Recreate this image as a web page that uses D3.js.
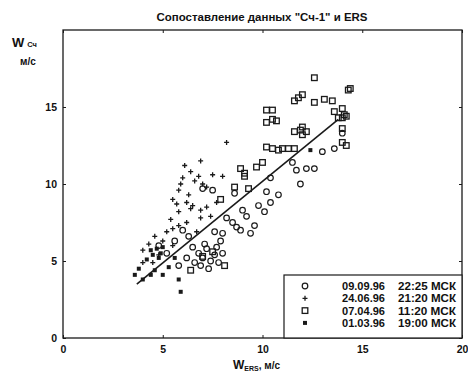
<!DOCTYPE html>
<html>
<head>
<meta charset="utf-8">
<script src="https://cdn.jsdelivr.net/npm/d3@7"></script>
<style>
  body { margin: 0; background: #fff; }
  text { font-family: "Liberation Sans", Arial, sans-serif; fill: #111; }
</style>
</head>
<body>
<div id="chart"></div>
<script>
const WIDTH = 468
const HEIGHT = 374
const margin = { top: 30, right: 6, bottom: 36, left: 63 }

// data (x = W_ERS, y = W_Сч, m/s)
const circles = [
  [6.5, 5.9], [6.8, 5.5], [7.0, 5.2], [7.2, 5.8], [7.4, 5.0], [7.6, 5.4], [7.8, 4.9],
  [6.9, 4.7], [7.3, 4.5], [7.7, 5.9], [8.0, 5.5], [6.6, 4.9], [7.1, 6.1], [7.9, 6.3],
  [5.8, 4.7], [6.2, 5.2], [8.2, 7.8], [8.5, 7.5], [8.7, 7.2], [8.9, 7.0], [9.2, 7.9],
  [9.6, 7.3], [8.0, 6.8], [9.0, 8.3], [9.8, 8.6], [10.4, 8.8], [10.2, 9.5], [10.8, 9.3],
  [10.4, 10.4], [11.5, 11.4], [11.7, 10.9], [12.2, 11.0], [12.6, 11.0], [11.9, 10.0],
  [13.0, 12.1], [13.6, 12.3], [14.0, 13.3], [7.0, 9.7], [7.5, 9.6], [8.6, 9.4],
  [6.0, 7.0], [5.6, 6.3], [4.8, 6.0], [5.2, 5.5], [9.4, 6.8], [10.1, 8.2], [6.3, 6.6], [7.6, 6.9],
]
const pluses = [
  [5.7, 8.7], [6.2, 8.8], [6.5, 8.6], [6.9, 8.3], [7.2, 8.5], [7.7, 8.8], [5.4, 7.7],
  [5.8, 8.2], [6.4, 8.4], [6.9, 7.8], [7.4, 7.9], [5.2, 6.9], [5.5, 7.1], [5.8, 7.3],
  [6.2, 7.5], [6.7, 6.9], [4.0, 5.7], [4.0, 4.9], [4.5, 4.9], [8.2, 12.7], [8.0, 10.5],
  [7.2, 9.8], [6.1, 11.2], [6.4, 10.8], [6.0, 10.4], [6.6, 10.2], [5.8, 9.6], [6.3, 9.3],
  [5.5, 9.0], [7.0, 10.0], [6.8, 10.5], [7.5, 10.6], [5.0, 6.3], [4.6, 6.6], [4.3, 6.1],
  [5.9, 10.0], [6.9, 11.5], [4.8, 5.4], [5.5, 6.0],
]
const squares = [
  [12.6, 16.9], [11.6, 15.4], [11.8, 15.6], [12.0, 15.8], [12.6, 15.3], [13.1, 15.5],
  [13.5, 15.4], [14.3, 16.1], [14.4, 16.2], [13.6, 14.7], [14.0, 14.9], [14.1, 14.5],
  [14.2, 14.4], [14.0, 14.3], [13.8, 14.3], [14.0, 13.6], [14.0, 12.7], [14.2, 12.5],
  [10.5, 14.8], [10.5, 14.2], [10.7, 14.1], [11.6, 13.4], [11.9, 13.5], [12.0, 13.7],
  [12.2, 13.4], [12.0, 13.2], [10.5, 12.3], [10.8, 12.2], [11.0, 12.3], [11.3, 12.3],
  [11.6, 12.3], [8.9, 11.0], [9.1, 10.7], [9.7, 11.1], [10.0, 11.4], [9.1, 10.5],
  [10.2, 14.8], [10.2, 14.0], [10.2, 12.4], [8.6, 9.8], [9.3, 9.7], [7.9, 9.0],
  [7.0, 5.3], [7.5, 5.6], [6.4, 4.4], [8.1, 4.7],
]
const dots = [
  [4.2, 5.1], [4.5, 5.4], [4.7, 5.8], [4.9, 5.5], [5.0, 5.9], [4.4, 5.7], [4.8, 5.2],
  [3.6, 4.1], [4.0, 3.8], [4.4, 4.1], [5.0, 4.1], [5.8, 3.8], [5.9, 3.0], [3.8, 4.5],
  [4.6, 4.4], [5.3, 4.6], [5.6, 5.2], [12.4, 12.2],
]

// regression line end points
const fitX = [3.7, 13.8]
const fitY = [3.5, 14.2]

const xTicks = [0, 5, 10, 15, 20]
const yTicks = [0, 5, 10, 15]

const legendLabels = [
  ['09.09.96', '22:25 МСК'],
  ['24.06.96', '21:20 МСК'],
  ['07.04.96', '11:20 МСК'],
  ['01.03.96', '19:00 МСК'],
]

const svg = d3.select('#chart').append('svg').attr('width', WIDTH).attr('height', HEIGHT)

const x = d3.scaleLinear().domain([0, 20]).range([margin.left, WIDTH - margin.right])
const y = d3.scaleLinear().domain([0, 20]).range([HEIGHT - margin.bottom, margin.top])

const INK = '#1a1a1a'

// frame
svg.append('rect')
  .attr('x', x(0)).attr('y', y(20))
  .attr('width', x(20) - x(0)).attr('height', y(0) - y(20))
  .attr('fill', 'none').attr('stroke', INK).attr('stroke-width', 1.3)

// axes, ticks pointing inward
svg.append('g')
  .attr('transform', `translate(0,${y(0)})`)
  .call(d3.axisBottom(x).tickValues(xTicks).tickSize(-3).tickPadding(8).tickFormat(d3.format('d')))
svg.append('g')
  .attr('transform', `translate(0,${y(20)})`)
  .call(d3.axisTop(x).tickValues(xTicks).tickSize(-3).tickFormat(''))
svg.append('g')
  .attr('transform', `translate(${x(0)},0)`)
  .call(d3.axisLeft(y).tickValues(yTicks).tickSize(-3).tickPadding(6).tickFormat(d3.format('d')))
svg.append('g')
  .attr('transform', `translate(${x(20)},0)`)
  .call(d3.axisRight(y).tickValues(yTicks).tickSize(-3).tickFormat(''))

svg.selectAll('.domain').remove()
svg.selectAll('.tick line').attr('stroke', INK)
svg.selectAll('.tick text')
  .attr('font-size', 10.5).attr('font-weight', 'bold')
  .style('font-family', '"Liberation Sans", Arial, sans-serif')
  .attr('fill', INK)

// title
svg.append('text')
  .attr('x', 262).attr('y', 21)
  .attr('text-anchor', 'middle')
  .attr('font-size', 11.5).attr('font-weight', 'bold')
  .attr('textLength', 211).attr('lengthAdjust', 'spacingAndGlyphs')
  .text('Сопоставление данных "Сч-1" и ERS')

// y label
const yl = svg.append('text').attr('x', 12).attr('y', 47).attr('font-size', 13).attr('font-weight', 'bold')
yl.append('tspan').text('W')
yl.append('tspan').attr('font-size', 7.5).attr('dx', 3).attr('dy', 0).text('Сч')
svg.append('text').attr('x', 20).attr('y', 65).attr('font-size', 10).attr('font-weight', 'bold').text('м/с')

// x label
const xl = svg.append('text').attr('x', 233).attr('y', 369).attr('font-size', 12).attr('font-weight', 'bold')
xl.append('tspan').text('W')
xl.append('tspan').attr('font-size', 7).attr('dy', 2).text('ERS')
xl.append('tspan').attr('font-size', 10).attr('dy', -2).text(', м/с')

// markers
const content = svg.append('g')

const markCircle = (g, px, py) =>
  g.append('circle').attr('cx', px).attr('cy', py).attr('r', 2.8)
    .attr('fill', 'none').attr('stroke', INK).attr('stroke-width', 1.2)
const markPlus = (g, px, py) =>
  g.append('path').attr('d', `M${px - 2.5},${py}h5M${px},${py - 2.5}v5`)
    .attr('stroke', INK).attr('stroke-width', 1.3)
const markSquare = (g, px, py) =>
  g.append('rect').attr('x', px - 2.8).attr('y', py - 2.8).attr('width', 5.6).attr('height', 5.6)
    .attr('fill', 'none').attr('stroke', INK).attr('stroke-width', 1.3)
const markDot = (g, px, py) =>
  g.append('rect').attr('x', px - 2).attr('y', py - 2).attr('width', 4).attr('height', 4)
    .attr('fill', INK)

const series = [
  { data: circles, mark: markCircle },
  { data: pluses, mark: markPlus },
  { data: squares, mark: markSquare },
  { data: dots, mark: markDot },
]

series.forEach(s => {
  s.data.forEach(d => s.mark(content, x(d[0]), y(d[1])))
})

// regression line
const line = d3.line().x(d => x(d[0])).y(d => y(d[1]))
content.append('path')
  .datum(d3.zip(fitX, fitY))
  .attr('d', line)
  .attr('fill', 'none').attr('stroke', INK).attr('stroke-width', 1.6)

// legend
const lx0 = 284
const ly0 = 275
const legend = svg.append('g')
legend.append('rect')
  .attr('x', lx0).attr('y', ly0)
  .attr('width', x(20) - lx0).attr('height', y(0) - ly0)
  .attr('fill', '#fff').attr('stroke', INK).attr('stroke-width', 1.2)

legendLabels.forEach((lab, i) => {
  const cy = 286 + i * 12.3
  series[i].mark(legend, 305, cy)
  legend.append('text').attr('x', 342).attr('y', cy + 4)
    .attr('font-size', 10.5).attr('font-weight', 'bold')
    .attr('textLength', 43).attr('lengthAdjust', 'spacingAndGlyphs').text(lab[0])
  legend.append('text').attr('x', 398).attr('y', cy + 4)
    .attr('font-size', 10.5).attr('font-weight', 'bold')
    .attr('textLength', 58).attr('lengthAdjust', 'spacingAndGlyphs').text(lab[1])
})
</script>
</body>
</html>
